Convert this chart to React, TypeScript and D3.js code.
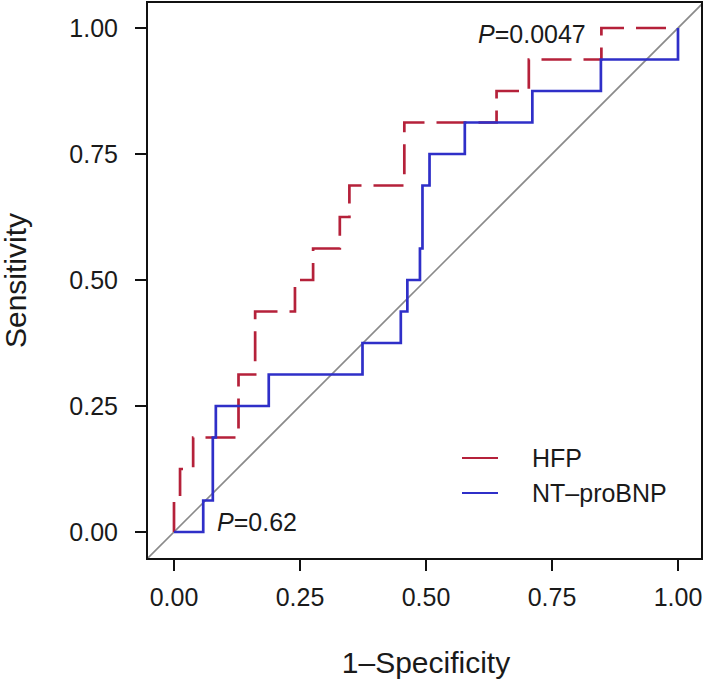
import React from "react";
import * as d3 from "d3";

// ROC step points (1-Specificity, Sensitivity)
const hfpFpr = [0, 0, 0.012, 0.038, 0.128, 0.161, 0.24, 0.276, 0.329, 0.348, 0.457, 0.64, 0.704, 0.848, 1];
const hfpTpr = [0, 0.0625, 0.125, 0.1875, 0.3125, 0.4375, 0.5, 0.5625, 0.625, 0.6875, 0.8125, 0.875, 0.9375, 1, 1];
const ntFpr = [0, 0.058, 0.077, 0.083, 0.188, 0.374, 0.45, 0.463, 0.488, 0.493, 0.507, 0.577, 0.711, 0.847, 1];
const ntTpr = [0, 0.0625, 0.1875, 0.25, 0.3125, 0.375, 0.4375, 0.5, 0.5625, 0.6875, 0.75, 0.8125, 0.875, 0.9375, 1];
const tickValues = [0, 0.25, 0.5, 0.75, 1];
const tickLabels = ["0.00", "0.25", "0.50", "0.75", "1.00"];
const seriesNames = ["HFP", "NT\u2013proBNP"];
const pLabels = ["0.0047", "0.62"];

const W = 709;
const H = 686;
const FONT = "'Liberation Sans', Arial, Helvetica, sans-serif";
const RED = "#B5213A";
const BLUE = "#2F2FC8";

export default function App() {
  const x = d3.scaleLinear().domain([0, 1]).range([174, 678]);
  const y = d3.scaleLinear().domain([0, 1]).range([532, 28]);
  const panel = { l: 147, r: 702, t: 2, b: 559 };

  const line = d3
    .line<[number, number]>()
    .x((d) => x(d[0]))
    .y((d) => y(d[1]))
    .curve(d3.curveStepAfter);

  const hfpPts: [number, number][] = hfpFpr.map((f, i) => [f, hfpTpr[i]]);
  const ntPts: [number, number][] = ntFpr.map((f, i) => [f, ntTpr[i]]);

  return (
    <svg
      width={W}
      height={H}
      style={{ position: "absolute", left: 0, top: 0, background: "#fff" }}
      fontFamily={FONT}
    >
      <defs>
        <clipPath id="clip">
          <rect x={panel.l} y={panel.t} width={panel.r - panel.l} height={panel.b - panel.t} />
        </clipPath>
      </defs>
      <rect x={0} y={0} width={W} height={H} fill="#fff" />
      {/* diagonal */}
      <line
        x1={x(-0.1)}
        y1={y(-0.1)}
        x2={x(1.1)}
        y2={y(1.1)}
        stroke="#8a8a8a"
        strokeWidth={1.6}
        clipPath="url(#clip)"
      />
      <path d={line(hfpPts) || ""} fill="none" stroke={RED} strokeWidth={2.7} strokeDasharray="30 12" />
      <path d={line(ntPts) || ""} fill="none" stroke={BLUE} strokeWidth={2.7} />
      {/* box */}
      <rect
        x={panel.l}
        y={panel.t}
        width={panel.r - panel.l}
        height={panel.b - panel.t}
        fill="none"
        stroke="#111"
        strokeWidth={2}
      />
      {/* x axis ticks */}
      {tickValues.map((v, i) => (
        <g key={"x" + i}>
          <line x1={x(v)} x2={x(v)} y1={panel.b} y2={panel.b + 12} stroke="#111" strokeWidth={2} />
          <text x={x(v)} y={606} textAnchor="middle" fontSize={25} fill="#1a1a1a">
            {tickLabels[i]}
          </text>
        </g>
      ))}
      {/* y axis ticks */}
      {tickValues.map((v, i) => (
        <g key={"y" + i}>
          <line x1={panel.l - 12} x2={panel.l} y1={y(v)} y2={y(v)} stroke="#111" strokeWidth={2} />
          <text x={118} y={y(v)} dy="0.36em" textAnchor="end" fontSize={25} fill="#1a1a1a">
            {tickLabels[i]}
          </text>
        </g>
      ))}
      <text x={x(0.5)} y={673} textAnchor="middle" fontSize={30} fill="#1a1a1a">
        1{"\u2013"}Specificity
      </text>
      <text
        transform={`translate(26, ${(panel.t + panel.b) / 2}) rotate(-90)`}
        textAnchor="middle"
        fontSize={30}
        fill="#1a1a1a"
      >
        Sensitivity
      </text>
      {/* P values */}
      <text x={478} y={43} fontSize={25} fill="#1a1a1a">
        <tspan fontStyle="italic">P</tspan>={pLabels[0]}
      </text>
      <text x={217} y={531} fontSize={25} fill="#1a1a1a">
        <tspan fontStyle="italic">P</tspan>={pLabels[1]}
      </text>
      {/* legend */}
      <g>
        <line x1={462} x2={498} y1={458} y2={458} stroke={RED} strokeWidth={2.2} />
        <text x={532} y={458} dy="0.36em" fontSize={25} fill="#1a1a1a">
          {seriesNames[0]}
        </text>
        <line x1={462} x2={498} y1={493} y2={493} stroke={BLUE} strokeWidth={2.2} />
        <text x={532} y={493} dy="0.36em" fontSize={25} fill="#1a1a1a">
          {seriesNames[1]}
        </text>
      </g>
    </svg>
  );
}
